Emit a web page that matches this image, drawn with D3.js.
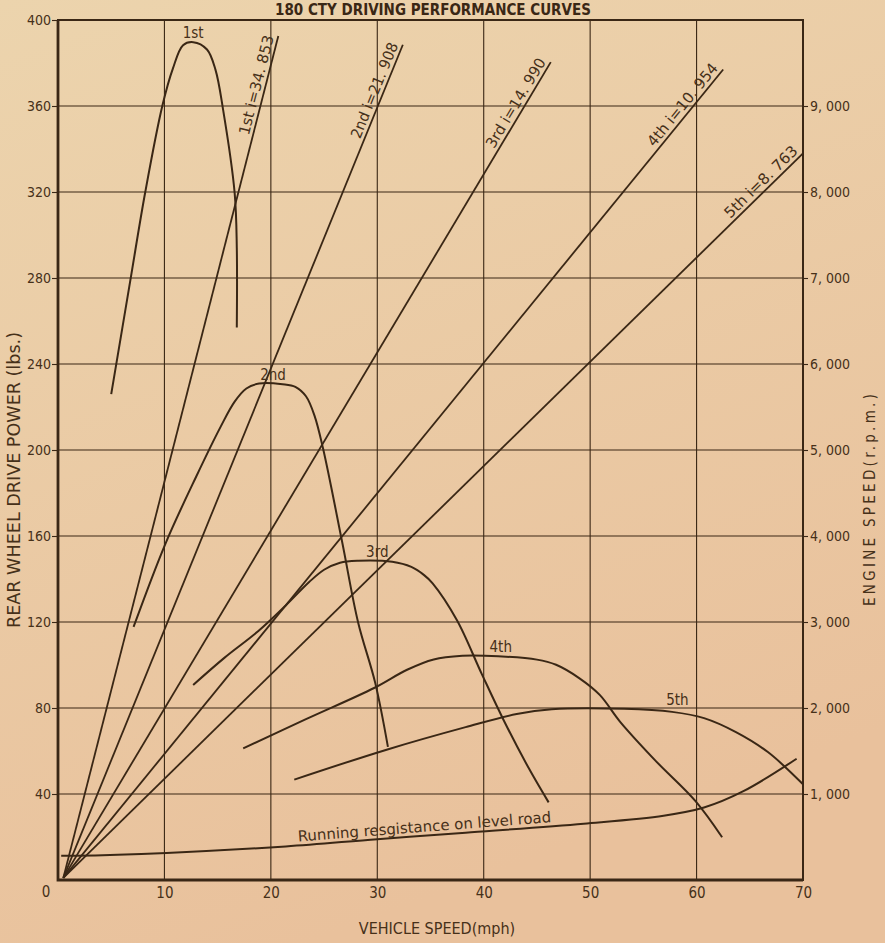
<!DOCTYPE html>
<html>
<head>
<meta charset="utf-8">
<script src="https://cdn.jsdelivr.net/npm/d3@7"></script>
<style>
    body { margin: 0; background: #e9cba3; }
    svg { display: block; }
    text { font-family: "Liberation Sans Narrow", "DejaVu Sans Condensed", "Liberation Sans", sans-serif; }
</style>
</head>
<body>
<div id="chart"></div>
<script>
// ---- data ----
const speed_ticks = [10, 20, 30, 40, 50, 60, 70];
const power_ticks = [40, 80, 120, 160, 200, 240, 280, 320, 360, 400];
const rpm_ticks = [1000, 2000, 3000, 4000, 5000, 6000, 7000, 8000, 9000];

const gear_names = ["1st", "2nd", "3rd", "4th", "5th"];
const gear_ratios = ["34. 853", "21. 908", "14. 990", "10. 954", "8. 763"];

// engine speed lines: common start, one end point per gear (mph, lbs)
const ratio_line_start = [0.5, 1];
const ratio_line_end_speed = [20.7, 32.4, 46.3, 62.5, 70];
const ratio_line_end_power = [392.6, 388.5, 380.4, 377.0, 338.0];

// drive power curves per gear, [mph, lbs]
const first_gear = [[5.0, 226], [6.8, 279], [8.2, 320], [9.8, 360], [10.8, 377.5], [11.75, 388.3],
    [12.7, 389.7], [14.0, 386.3], [14.8, 376.8], [15.5, 358.7], [16.6, 319.5], [16.8, 294], [16.8, 257]];
const second_gear = [[7.1, 117.7], [10.1, 156.5], [13.0, 187.8], [15.3, 211.0], [16.6, 222.5], [17.7, 228.6],
    [18.9, 230.9], [21.1, 230.6], [22.3, 229.4], [23.3, 225.0], [24.1, 216.0], [24.9, 200.8], [26.7, 157.2],
    [28.2, 119.8], [29.8, 91.8], [31.0, 61.9]];
const third_gear = [[12.7, 90.7], [15.6, 103.2], [18.8, 115.7], [21.4, 127.7], [23.6, 138.6], [25.0, 144.3],
    [26.5, 147.6], [28.2, 148.5], [31.4, 148.0], [33.2, 145.6], [34.4, 141.8], [35.2, 138.0], [37.5, 120.7],
    [39.8, 96.0], [41.9, 74.1], [44.2, 52.3], [46.1, 36.1]];
const fourth_gear = [[17.4, 61.2], [23.3, 74.8], [29.7, 89.3], [32.8, 97.8], [35.3, 102.6], [38.0, 104.3],
    [40.1, 104.3], [45.0, 102.5], [46.8, 100.1], [49.0, 93.8], [50.9, 86.1], [52.8, 73.7], [56.2, 55.2],
    [59.9, 36.7], [62.4, 19.9]];
const fifth_gear = [[22.2, 46.7], [30.8, 60.5], [38.3, 71.1], [43.1, 77.2], [46.4, 79.4], [53.2, 79.6],
    [57.7, 78.2], [60.7, 75.3], [63.7, 68.8], [66.7, 59.5], [70.0, 44.5]];
const running_resistance = [[0.3, 11.3], [1.5, 11.3], [10.2, 12.6], [21.4, 15.6], [30.0, 19.0], [38.3, 22.0],
    [49.4, 26.2], [56.9, 29.9], [60.7, 33.7], [64.4, 41.3], [69.4, 56.4]];

const gear_curves = [first_gear, second_gear, third_gear, fourth_gear, fifth_gear];
// speed at which each curve name is written above its top
const curve_label_speed = [12.7, 20.2, 30.0, 41.6, 58.2];

// ---- chart ----
const width = 885;
const height = 943;
const margin_left = 58;
const margin_right = 82;
const margin_top = 20;
const margin_bottom = 63;
const ink = "#3a2715";
const text_ink = "#463019";

const x = d3.scaleLinear().domain([0, 70]).range([margin_left, width - margin_right]);
const y = d3.scaleLinear().domain([0, 400]).range([height - margin_bottom, margin_top]);
const y_rpm = d3.scaleLinear().domain([0, 10000]).range([height - margin_bottom, margin_top]);

const svg = d3.select("#chart").append("svg")
    .attr("width", width)
    .attr("height", height);

// paper
const grad = svg.append("defs").append("linearGradient")
    .attr("id", "paper").attr("x1", "0").attr("y1", "0").attr("x2", "0.35").attr("y2", "1");
grad.append("stop").attr("offset", "0%").attr("stop-color", "#ecd4ad");
grad.append("stop").attr("offset", "100%").attr("stop-color", "#e9c19c");
svg.append("rect").attr("width", width).attr("height", height).attr("fill", "url(#paper)");

// title
svg.append("text")
    .attr("x", 433).attr("y", 15)
    .attr("text-anchor", "middle")
    .attr("font-family", "Liberation Sans, Arial, sans-serif")
    .attr("font-weight", "bold")
    .attr("font-size", 15)
    .attr("fill", ink)
    .text("180  CTY DRIVING PERFORMANCE CURVES");

// grid
const grid = svg.append("g").attr("stroke", ink).attr("stroke-width", 1.1);
grid.selectAll(".hgrid")
    .data(power_ticks.slice(0, -1))
    .join("line")
    .attr("x1", x(0)).attr("x2", x(70))
    .attr("y1", d => y(d)).attr("y2", d => y(d));
grid.selectAll(".vgrid")
    .data(speed_ticks.slice(0, -1))
    .join("line")
    .attr("x1", d => x(d)).attr("x2", d => x(d))
    .attr("y1", y(0)).attr("y2", y(400));

// frame
svg.append("rect")
    .attr("x", x(0)).attr("y", y(400))
    .attr("width", x(70) - x(0)).attr("height", y(0) - y(400))
    .attr("fill", "none").attr("stroke", ink).attr("stroke-width", 2);
svg.append("path")
    .attr("d", `M${x(0)},${y(400)}V${y(0)}H${x(70)}`)
    .attr("fill", "none").attr("stroke", ink).attr("stroke-width", 2.8);

// axes
function style_axis(g, size) {
    g.select(".domain").remove();
    g.selectAll(".tick line").attr("stroke", ink).attr("stroke-width", 1.1);
    g.selectAll(".tick text").attr("fill", text_ink).attr("font-size", size)
        .attr("font-family", "Liberation Sans Narrow, DejaVu Sans Condensed, sans-serif");
}

svg.append("g")
    .attr("transform", `translate(${x(0)},0)`)
    .call(d3.axisLeft(y).tickValues(power_ticks).tickSize(6).tickPadding(1))
    .call(g => style_axis(g, 14));

svg.append("g")
    .attr("transform", `translate(${x(70)},0)`)
    .call(d3.axisRight(y_rpm).tickValues(rpm_ticks).tickSize(5).tickPadding(2)
        .tickFormat(d => d3.format(",")(d).replace(",", ", ")))
    .call(g => style_axis(g, 14));

svg.append("g")
    .attr("transform", `translate(0,${y(0)})`)
    .call(d3.axisBottom(x).tickValues(speed_ticks).tickSize(0).tickPadding(7))
    .call(g => style_axis(g, 15));

svg.append("text")
    .attr("x", x(0) - 12).attr("y", y(0) + 17)
    .attr("text-anchor", "middle")
    .attr("font-size", 15).attr("fill", text_ink)
    .text("0");

// axis titles
svg.append("text")
    .attr("transform", `translate(20,480) rotate(-90)`)
    .attr("text-anchor", "middle")
    .attr("font-size", 17).attr("fill", text_ink)
    .attr("textLength", 296).attr("lengthAdjust", "spacingAndGlyphs")
    .text("REAR WHEEL DRIVE POWER (lbs.)");

svg.append("text")
    .attr("transform", `translate(875,500) rotate(-90)`)
    .attr("text-anchor", "middle")
    .attr("font-size", 15).attr("fill", text_ink)
    .attr("textLength", 212).attr("lengthAdjust", "spacing")
    .text("ENGINE SPEED(r.p.m.)");

svg.append("text")
    .attr("x", 437).attr("y", 934)
    .attr("text-anchor", "middle")
    .attr("font-size", 16).attr("fill", text_ink)
    .text("VEHICLE SPEED(mph)");

// engine speed lines per gear
const ratio_lines = svg.append("g");
gear_names.forEach((name, i) => {
    const x1 = x(ratio_line_start[0]), y1 = y(ratio_line_start[1]);
    const x2 = x(ratio_line_end_speed[i]), y2 = y(ratio_line_end_power[i]);
    ratio_lines.append("line")
        .attr("x1", x1).attr("y1", y1).attr("x2", x2).attr("y2", y2)
        .attr("stroke", ink).attr("stroke-width", 1.8);
    const angle = Math.atan2(y2 - y1, x2 - x1) * 180 / Math.PI;
    ratio_lines.append("text")
        .attr("transform", `translate(${x2},${y2}) rotate(${angle})`)
        .attr("x", -2).attr("y", -4)
        .attr("text-anchor", "end")
        .attr("font-size", 15).attr("fill", text_ink)
        .attr("textLength", i === 4 ? 96 : 102)
        .attr("lengthAdjust", "spacingAndGlyphs")
        .text(`${name}  i=${gear_ratios[i]}`);
});

// drive power curves
const curve_line = d3.line()
    .x(d => x(d[0]))
    .y(d => y(d[1]))
    .curve(d3.curveCatmullRom.alpha(0.5));

svg.append("g")
    .selectAll("path")
    .data(gear_curves)
    .join("path")
    .attr("d", curve_line)
    .attr("fill", "none")
    .attr("stroke", ink)
    .attr("stroke-width", 2);

svg.append("g")
    .selectAll("text")
    .data(gear_curves)
    .join("text")
    .attr("x", (d, i) => x(curve_label_speed[i]))
    .attr("y", d => y(d3.max(d, p => p[1])) - 4)
    .attr("text-anchor", "middle")
    .attr("font-size", 15).attr("fill", text_ink)
    .text((d, i) => gear_names[i]);

// running resistance
svg.append("path")
    .attr("d", curve_line(running_resistance))
    .attr("fill", "none")
    .attr("stroke", ink)
    .attr("stroke-width", 2);

const rr_a = [x(21.4), y(15.6)];
const rr_b = [x(49.4), y(26.2)];
const rr_angle = Math.atan2(rr_b[1] - rr_a[1], rr_b[0] - rr_a[0]) * 180 / Math.PI;
svg.append("text")
    .attr("transform", `translate(${x(22.6)},${y(16.1)}) rotate(${rr_angle})`)
    .attr("y", -4)
    .attr("font-size", 15).attr("fill", text_ink)
    .attr("textLength", 254)
    .attr("lengthAdjust", "spacingAndGlyphs")
    .text("Running resgistance on  level road");
</script>
</body>
</html>
